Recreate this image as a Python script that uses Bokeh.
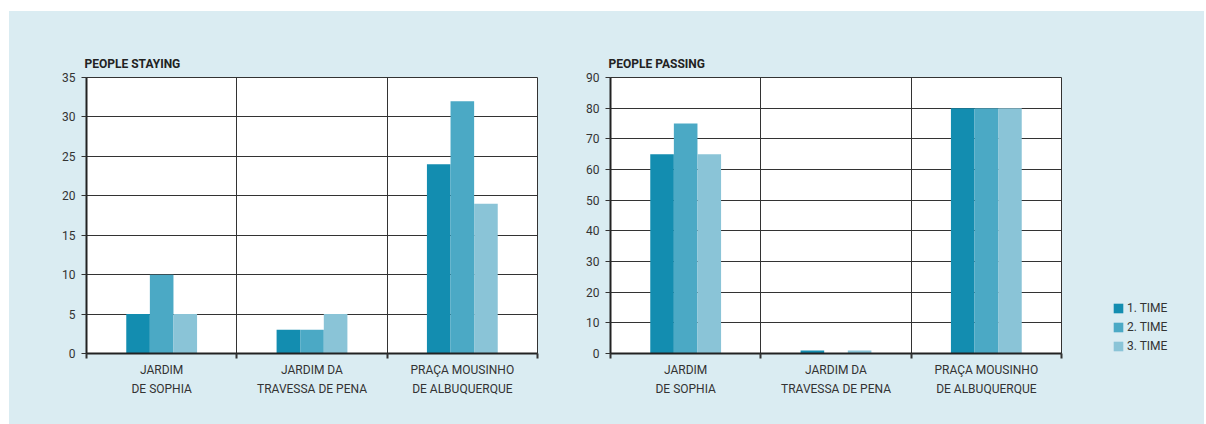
from bokeh.plotting import figure
from bokeh.models import FixedTicker, Legend, LegendItem, ColumnDataSource, Spacer
from bokeh.transform import dodge
from bokeh.layouts import row, column
from bokeh.embed import file_html
from bokeh.resources import INLINE

categories = ["JARDIM\nDE SOPHIA", "JARDIM DA\nTRAVESSA DE PENA", "PRAÇA MOUSINHO\nDE ALBUQUERQUE"]
series = ["1. TIME", "2. TIME", "3. TIME"]
staying_t1 = [5, 3, 24]
staying_t2 = [10, 3, 32]
staying_t3 = [5, 5, 19]
passing_t1 = [65, 1, 80]
passing_t2 = [75, 0, 80]
passing_t3 = [65, 1, 80]
staying_ticks = [0, 5, 10, 15, 20, 25, 30, 35]
passing_ticks = [0, 10, 20, 30, 40, 50, 60, 70, 80, 90]

colors = ["#138db0", "#4ba9c5", "#8ac4d7"]
PANEL = "#daecf2"
FONT = "Roboto"
DARK = "#333333"

centers = [i + 0.5 for i in range(len(categories))]
bounds = list(range(len(categories) + 1))


def make_plot(title, values, yticks, width, bl, br):
    p = figure(width=width, height=413, x_range=(0, len(categories)),
               y_range=(yticks[0], yticks[-1]), output_backend="svg",
               toolbar_location=None, min_border_left=bl, min_border_right=br,
               min_border_top=66, min_border_bottom=71)
    p.background_fill_color = "white"
    p.border_fill_color = PANEL
    p.outline_line_color = DARK
    p.outline_line_width = 1
    src = ColumnDataSource(dict(x=centers, t1=values[0], t2=values[1], t3=values[2]))
    rs = []
    for k, (col, off) in enumerate(zip(["t1", "t2", "t3"], [-0.157, 0.0, 0.157])):
        r = p.vbar(x=dodge("x", off, range=p.x_range), top=col, width=0.157,
                   bottom=0, source=src, fill_color=colors[k], line_color=None)
        rs.append(r)
    # title
    p.title.text = title
    p.title.text_font = FONT
    p.title.text_font_size = "12px"
    p.title.text_font_style = "bold"
    p.title.text_color = "#222222"
    p.title.align = "left"
    p.title.offset = -2
    p.title.standoff = 14
    # x axis
    xa = p.xaxis[0]
    xa.ticker = FixedTicker(ticks=centers, minor_ticks=bounds)
    xa.major_label_overrides = {c: lab for c, lab in zip(centers, categories)}
    xa.major_tick_line_color = None
    xa.minor_tick_in = 0
    xa.minor_tick_out = 5
    xa.minor_tick_line_color = DARK
    xa.minor_tick_line_width = 2
    xa.axis_line_color = "#222222"
    xa.axis_line_width = 2
    xa.major_label_text_font = FONT
    xa.major_label_text_font_size = "12px"
    xa.major_label_text_color = DARK
    xa.major_label_text_line_height = 1.4
    xa.major_label_standoff = 3
    # y axis
    ya = p.yaxis[0]
    ya.ticker = FixedTicker(ticks=yticks)
    ya.axis_line_color = "#222222"
    ya.axis_line_width = 2
    ya.major_tick_in = 0
    ya.major_tick_out = 5
    ya.major_tick_line_color = DARK
    ya.minor_tick_line_color = None
    ya.major_label_text_font = FONT
    ya.major_label_text_font_size = "12px"
    ya.major_label_text_color = DARK
    ya.major_label_standoff = 6
    # grids
    p.xgrid.grid_line_color = None
    p.xgrid.minor_grid_line_color = DARK
    p.xgrid.minor_grid_line_width = 1
    p.ygrid.grid_line_color = DARK
    p.ygrid.grid_line_width = 1
    return p, rs


p1, _ = make_plot("PEOPLE STAYING", [staying_t1, staying_t2, staying_t3],
                  staying_ticks, 551, 77, 23)
p2, _ = make_plot("PEOPLE PASSING", [passing_t1, passing_t2, passing_t3],
                  passing_ticks, 503, 50, 2)

# legend panel
p3 = figure(width=141, height=413, x_range=(0, 1), y_range=(0, 1),
            output_backend="svg", toolbar_location=None,
            min_border_left=49, min_border_right=0, min_border_top=0, min_border_bottom=68)
p3.axis.visible = False
p3.grid.visible = False
p3.outline_line_color = None
p3.background_fill_color = PANEL
p3.border_fill_color = PANEL
swatches = []
for c in colors:
    swatches.append(p3.vbar(x=[float("nan")], top=[float("nan")], width=1,
                            fill_color=c, line_color=None))

legend = Legend(items=[LegendItem(label=s, renderers=[r]) for s, r in zip(series, swatches)],
                location="bottom_left", orientation="vertical")
legend.background_fill_alpha = 0
legend.border_line_color = None
legend.glyph_width = 12
legend.glyph_height = 12
legend.label_height = 12
legend.spacing = 5
legend.label_standoff = 3
legend.padding = 0
legend.margin = 0
legend.label_text_font = FONT
legend.label_text_font_size = "12px"
legend.label_text_color = DARK
p3.add_layout(legend, "center")

charts = row(p1, p2, p3, spacing=0, styles={"background-color": PANEL})
layout = column(Spacer(height=11), row(Spacer(width=9), charts, spacing=0), spacing=0)
open("out.html", "w").write(file_html(layout, INLINE))
